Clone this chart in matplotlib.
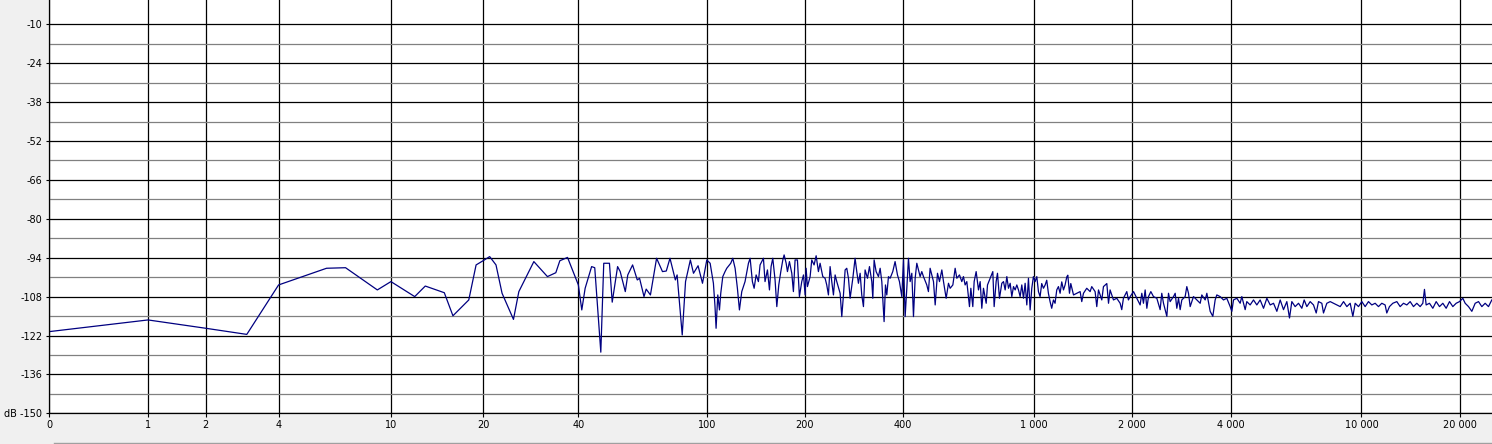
import numpy as np
import matplotlib
matplotlib.use("Agg")
import matplotlib.pyplot as plt
from matplotlib.lines import Line2D
from matplotlib.ticker import FuncFormatter

# spectrum: frequency (Hz) and level (dB)
low_freq = [0, 1, 2, 3, 4, 6, 7, 9, 10, 12,
            13, 15, 16, 18, 19, 20, 21, 22, 23, 25,
            26, 29, 32, 34, 35, 37, 40, 41, 42, 44,
            45, 47, 48, 50, 51, 53, 54, 56, 57, 59,
            61, 62, 64, 65, 67, 70, 73, 75, 77, 80,
            81, 84, 86, 89, 91, 94, 97]
low_db = [-120.6, -116.4, -119.4, -121.6, -103.8, -97.8, -97.6, -105.6, -102.6, -108.0,
          -104.2, -106.6, -114.9, -109.2, -96.6, -95.1, -93.6, -96.6, -106.8, -116.2,
          -106.2, -95.4, -100.8, -99.4, -95.1, -93.9, -103.8, -112.8, -105.0, -97.2,
          -97.6, -128.0, -96.0, -96.0, -110.0, -97.2, -99.0, -106.2, -100.2, -96.6,
          -102.0, -101.4, -108.0, -105.3, -107.4, -94.2, -99.0, -98.8, -94.2, -102.0,
          -100.2, -121.8, -102.6, -94.8, -99.6, -96.9, -103.2]

mid_freq = [100, 102.4, 104.8, 106, 106.8, 108.1, 109.4, 110.4, 112, 113.8,
            115.2, 117.4, 118.5, 120.2, 122.2, 124.2, 126, 128.1, 131.1, 134.3,
            135.9, 138.1, 139.8, 141.8, 144.1, 145.8, 149.3, 151, 153.6, 155.8,
            157.6, 159.5, 162.1, 164.1, 166.4, 168.8, 171.2, 172.8, 175.3, 176.9,
            179.4, 182.4, 184.5, 186.7, 189.8, 192.5, 195.7, 198.1, 200.4, 201.8,
            203.7, 207.6, 210, 213.5, 216.6, 220.1, 222.7, 227, 230.7, 233.4,
            236.2, 239, 241.8, 244.7, 247.6, 250.5, 256.5, 259.5, 262.6, 265.7,
            268.8, 272, 275.2, 280.5, 285, 288.4, 291.8, 295.3, 298.7, 302.3,
            305.8, 311, 315.4, 320.6, 322.9, 325.9, 330.5, 336, 340, 344,
            346.4, 349.6, 353, 356.3, 360.5, 364.7, 371.6, 377.7, 384.1, 389.5,
            396, 400.7, 405.4, 410.2, 415, 419.9, 424.9, 429.9, 435, 440.1,
            450.5, 455.8, 461.2, 472.1, 477.6, 483.3, 488.9, 494.9, 500.8, 509,
            516.2, 524.8, 531, 541, 549.9, 556.4, 567.1, 576.3, 583.1, 594.1,
            603.9, 611, 618.2, 625.6, 637.4, 643.5, 652.5, 658.7, 668, 679.1,
            687.1, 695.1, 703.3, 716.8, 723.5, 737, 751, 758.1, 768.8, 776.1,
            787, 800.1, 809.6, 819.1, 828.7, 838.5, 848.4, 858.3, 868.5, 878.7,
            889, 899.4, 910, 920.7, 931.6, 942.5, 953.7, 964.8, 976.2, 987.6,
            999, 1011, 1023, 1035]
mid_db = [-94.8, -96.0, -103.2, -111.6, -119.4, -107.4, -112.8, -106.8, -100.8, -99.0,
          -97.8, -96.6, -96.0, -94.2, -97.8, -105.0, -112.8, -106.2, -102.6, -96.0,
          -94.2, -102.6, -105.0, -100.2, -102.6, -96.6, -94.2, -102.6, -98.4, -105.6,
          -97.2, -94.2, -102.0, -111.6, -103.8, -99.0, -94.8, -93.0, -96.0, -99.0,
          -95.4, -99.6, -106.2, -94.8, -94.8, -108.0, -102.6, -100.2, -107.4, -97.8,
          -104.4, -100.8, -94.8, -96.6, -93.3, -99.0, -96.0, -100.8, -101.4, -103.8,
          -107.4, -97.2, -102.6, -107.4, -100.2, -102.6, -106.8, -115.2, -107.4, -98.4,
          -97.8, -101.4, -108.6, -101.4, -94.2, -99.0, -103.2, -99.6, -107.4, -111.6,
          -98.4, -101.4, -97.2, -102.6, -108.6, -94.8, -99.0, -100.8, -97.8, -102.6,
          -108.6, -117.0, -103.8, -107.4, -100.8, -101.4, -99.0, -95.4, -100.2, -102.6,
          -108.0, -94.8, -115.2, -105.0, -94.2, -102.6, -99.6, -115.2, -101.4, -96.0,
          -100.8, -99.0, -100.8, -103.8, -106.2, -97.8, -100.2, -102.6, -111.0, -99.6,
          -102.6, -98.4, -102.6, -108.6, -103.2, -105.0, -103.8, -97.8, -101.4, -100.2,
          -102.6, -100.8, -103.8, -102.6, -111.6, -105.0, -111.6, -102.6, -99.0, -105.6,
          -102.6, -112.2, -105.0, -110.4, -103.8, -101.4, -99.0, -111.6, -102.6, -99.6,
          -108.6, -103.2, -102.6, -105.6, -100.8, -105.0, -103.2, -108.0, -104.4, -105.6,
          -103.8, -105.6, -108.0, -103.8, -108.6, -103.2, -111.0, -101.4, -112.8, -105.0,
          -100.8, -102.6, -100.8, -106.2]

high_freq = [1047, 1059, 1072, 1085, 1097, 1110, 1123, 1136, 1150, 1163,
             1177, 1191, 1205, 1219, 1234, 1248, 1263, 1272, 1287, 1299,
             1324, 1355, 1387, 1403, 1420, 1453, 1488, 1505, 1541, 1559,
             1578, 1615, 1634, 1673, 1693, 1712, 1733, 1753, 1794, 1837,
             1858, 1880, 1925, 1947, 1971, 2018, 2065, 2114, 2139, 2164,
             2190, 2216, 2242, 2279, 2322, 2377, 2433, 2461, 2491, 2550,
             2580, 2610, 2672, 2704, 2735, 2768, 2800, 2833, 2900, 2934,
             2969, 3004, 3075, 3148, 3223, 3260, 3338, 3377, 3457, 3522,
             3580, 3622, 3708, 3796, 3885, 3978, 4025, 4072, 4169, 4267,
             4317, 4420, 4471, 4577, 4686, 4797, 4910, 5028, 5147, 5269,
             5394, 5521, 5652, 5785, 5922, 6034, 6133, 6278, 6428, 6580,
             6688, 6815, 6976, 7141, 7278, 7396, 7571, 7660, 7841, 8029,
             8219, 8414, 8613, 8817, 9025, 9238, 9413, 9568, 9794, 10025,
             10262, 10504, 10753, 11007, 11268, 11534, 11806, 11945, 12172, 12461,
             12817, 13121, 13431, 13749, 14074, 14406, 14747, 15096, 15382, 15562,
             15747, 16119, 16503, 16894, 17294, 17703, 18121, 18554, 18990, 19438,
             19900, 20370, 20711, 21200, 21701, 22215, 22741, 23278, 23828, 24391,
             24968]
high_db = [-108.0, -103.3, -105.0, -103.8, -102.1, -106.8, -109.8, -112.2, -109.2, -110.4,
           -105.6, -104.4, -106.8, -102.7, -105.6, -103.8, -100.9, -100.3, -106.8, -103.3,
           -107.4, -106.8, -106.2, -109.8, -106.8, -105.0, -106.2, -104.4, -106.2, -111.6,
           -105.6, -109.2, -104.4, -103.3, -110.4, -105.6, -107.4, -109.2, -108.6, -110.4,
           -112.7, -108.6, -106.2, -109.2, -108.0, -106.2, -108.6, -111.0, -106.8, -110.4,
           -105.6, -112.2, -108.0, -106.2, -108.0, -108.6, -112.7, -106.8, -110.4, -115.1,
           -106.8, -109.8, -108.0, -106.8, -112.2, -108.6, -112.7, -109.2, -108.0, -104.4,
           -106.8, -111.6, -108.0, -109.2, -110.4, -107.4, -109.2, -106.8, -113.3, -115.1,
           -109.2, -107.4, -108.0, -109.2, -108.6, -111.6, -113.3, -109.2, -108.6, -110.4,
           -108.0, -112.7, -109.8, -111.0, -109.2, -111.0, -109.2, -112.2, -108.6, -111.0,
           -110.4, -113.3, -109.2, -112.7, -109.8, -115.7, -109.8, -111.6, -110.4, -112.2,
           -109.2, -111.6, -109.8, -111.0, -113.9, -109.8, -110.4, -113.9, -110.4, -109.8,
           -110.4, -111.0, -111.6, -109.8, -111.6, -110.4, -115.1, -110.4, -111.6, -109.8,
           -111.6, -109.8, -111.0, -110.4, -111.6, -110.4, -111.0, -113.9, -111.6, -110.4,
           -109.8, -111.6, -110.4, -111.0, -109.8, -111.6, -110.4, -111.6, -110.4, -105.4,
           -111.0, -110.4, -112.2, -109.8, -111.6, -110.4, -112.2, -109.8, -111.6, -110.4,
           -109.8, -108.6, -110.4, -111.6, -113.3, -110.4, -109.8, -111.6, -110.4, -111.6,
           -109.2]

x_ticks = [0, 1, 2, 4, 10, 20, 40, 100, 200, 400, 1000, 2000, 4000, 10000, 20000]
y_ticks = [-150, -136, -122, -108, -94, -80, -66, -52, -38, -24, -10]
y_minor = [-143, -129, -115, -101, -87, -73, -59, -45, -31, -17]

freq = np.array(low_freq + mid_freq + high_freq, dtype=float)
level = np.array(low_db + mid_db + high_db, dtype=float)

W, H = 1492, 444
fig = plt.figure(figsize=(W / 100, H / 100), dpi=100, facecolor="#f0f0f0")
ax = fig.add_axes([49.3 / W, 1 - 413.3 / H, 1 - 49.3 / W, 413.3 / H])
ax.set_facecolor("white")


def fwd(f):
    return np.log10(np.clip(f, 0, None) + 1)


def inv(u):
    return 10 ** u - 1


ax.set_xscale("function", functions=(fwd, inv))
ax.set_xlim(0, 25000)
ax.set_ylim(-150, -1.25)

ax.set_xticks(x_ticks)
ax.xaxis.set_major_formatter(FuncFormatter(lambda v, p: f"{int(round(v)):,}".replace(",", " ")))
ax.set_yticks(y_ticks)
ax.set_yticks(y_minor, minor=True)
ax.yaxis.set_major_formatter(FuncFormatter(lambda v, p: "dB -150" if round(v) == -150 else f"{int(round(v))}"))

ax.set_axisbelow(True)
ax.grid(which="major", color="black", lw=0.9)
ax.grid(which="minor", axis="y", color="#808080", lw=0.9)

ax.plot(freq, level, color="#000080", lw=0.9)

for side in ["top", "right"]:
    ax.spines[side].set_visible(False)
for side in ["left", "bottom"]:
    ax.spines[side].set_color("black")
    ax.spines[side].set_linewidth(0.9)

ax.tick_params(axis="x", length=3, width=0.8, pad=2, labelsize=7, colors="black")
ax.tick_params(axis="y", which="major", length=2, width=0.8, pad=3, labelsize=7, colors="black")
ax.tick_params(axis="y", which="minor", length=0)

# thin frame line along the bottom of the window
fig.add_artist(Line2D([54 / W, 1], [1.5 / H, 1.5 / H], color="#a0a0a0", lw=1))

fig.savefig("out.png", dpi=100, facecolor=fig.get_facecolor())
